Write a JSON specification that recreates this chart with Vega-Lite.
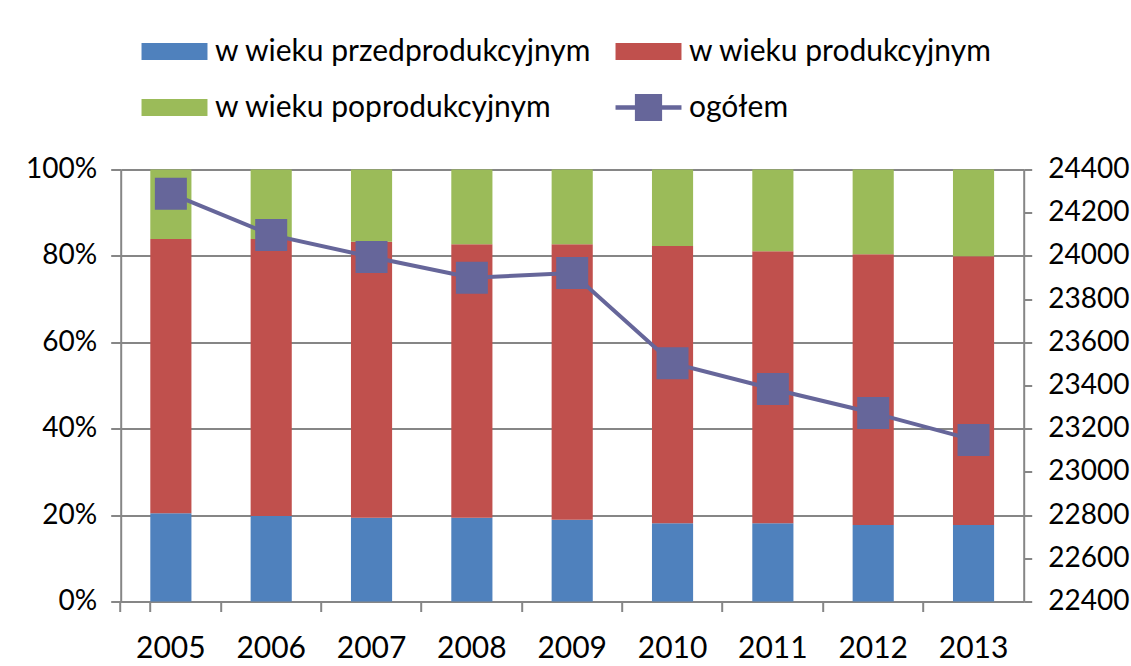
{
  "$schema": "https://vega.github.io/schema/vega-lite/v6.json",
  "width": 903,
  "height": 432,
  "autosize": {"type": "none"},
  "padding": {"left": 120.7, "top": 169.5, "right": 107.3, "bottom": 64.5},
  "background": "white",
  "config": {
    "view": {"stroke": null},
    "font": "Lato",
    "axis": {"labelFont": "Lato", "labelColor": "#000000", "domainColor": "#868686", "tickColor": "#868686", "gridColor": "#868686", "domainWidth": 2, "tickWidth": 2, "gridWidth": 1.8, "title": null}
  },
  "datasets": {
    "udzialy": [
      {"rok": "2005", "grupa": "w wieku przedprodukcyjnym", "k": 1, "udzial": 20.4},
      {"rok": "2005", "grupa": "w wieku produkcyjnym", "k": 2, "udzial": 63.5},
      {"rok": "2005", "grupa": "w wieku poprodukcyjnym", "k": 3, "udzial": 16.1},
      {"rok": "2006", "grupa": "w wieku przedprodukcyjnym", "k": 1, "udzial": 19.8},
      {"rok": "2006", "grupa": "w wieku produkcyjnym", "k": 2, "udzial": 64.1},
      {"rok": "2006", "grupa": "w wieku poprodukcyjnym", "k": 3, "udzial": 16.1},
      {"rok": "2007", "grupa": "w wieku przedprodukcyjnym", "k": 1, "udzial": 19.4},
      {"rok": "2007", "grupa": "w wieku produkcyjnym", "k": 2, "udzial": 63.9},
      {"rok": "2007", "grupa": "w wieku poprodukcyjnym", "k": 3, "udzial": 16.7},
      {"rok": "2008", "grupa": "w wieku przedprodukcyjnym", "k": 1, "udzial": 19.4},
      {"rok": "2008", "grupa": "w wieku produkcyjnym", "k": 2, "udzial": 63.3},
      {"rok": "2008", "grupa": "w wieku poprodukcyjnym", "k": 3, "udzial": 17.3},
      {"rok": "2009", "grupa": "w wieku przedprodukcyjnym", "k": 1, "udzial": 18.9},
      {"rok": "2009", "grupa": "w wieku produkcyjnym", "k": 2, "udzial": 63.8},
      {"rok": "2009", "grupa": "w wieku poprodukcyjnym", "k": 3, "udzial": 17.3},
      {"rok": "2010", "grupa": "w wieku przedprodukcyjnym", "k": 1, "udzial": 18.1},
      {"rok": "2010", "grupa": "w wieku produkcyjnym", "k": 2, "udzial": 64.2},
      {"rok": "2010", "grupa": "w wieku poprodukcyjnym", "k": 3, "udzial": 17.7},
      {"rok": "2011", "grupa": "w wieku przedprodukcyjnym", "k": 1, "udzial": 18.1},
      {"rok": "2011", "grupa": "w wieku produkcyjnym", "k": 2, "udzial": 63.0},
      {"rok": "2011", "grupa": "w wieku poprodukcyjnym", "k": 3, "udzial": 18.9},
      {"rok": "2012", "grupa": "w wieku przedprodukcyjnym", "k": 1, "udzial": 17.7},
      {"rok": "2012", "grupa": "w wieku produkcyjnym", "k": 2, "udzial": 62.7},
      {"rok": "2012", "grupa": "w wieku poprodukcyjnym", "k": 3, "udzial": 19.6},
      {"rok": "2013", "grupa": "w wieku przedprodukcyjnym", "k": 1, "udzial": 17.7},
      {"rok": "2013", "grupa": "w wieku produkcyjnym", "k": 2, "udzial": 62.2},
      {"rok": "2013", "grupa": "w wieku poprodukcyjnym", "k": 3, "udzial": 20.1}
    ],
    "ogolem": [
      {"rok": "2005", "ludnosc": 24288},
      {"rok": "2006", "ludnosc": 24097},
      {"rok": "2007", "ludnosc": 23995},
      {"rok": "2008", "ludnosc": 23899},
      {"rok": "2009", "ludnosc": 23921},
      {"rok": "2010", "ludnosc": 23503},
      {"rok": "2011", "ludnosc": 23384},
      {"rok": "2012", "ludnosc": 23273},
      {"rok": "2013", "ludnosc": 23148}
    ]
  },
  "encoding": {
    "x": {
      "field": "rok", "type": "nominal", "sort": null,
      "scale": {"paddingInner": 0.59, "paddingOuter": 0.295},
      "axis": {"labelAngle": 0, "bandPosition": -0.72, "tickExtra": true, "tickSize": 10, "labelPadding": 22, "labelFontSize": 30, "grid": false}
    }
  },
  "layer": [
    {
      "data": {"name": "udzialy"},
      "mark": {"type": "bar"},
      "encoding": {
        "y": {
          "field": "udzial", "type": "quantitative", "stack": "normalize",
          "scale": {"domain": [0, 1]},
          "axis": {"orient": "left", "values": [0, 0.2, 0.4, 0.6, 0.8, 1], "format": ".0%", "grid": true, "tickSize": 10, "labelPadding": 14, "labelFontSize": 28}
        },
        "color": {
          "field": "grupa", "type": "nominal",
          "scale": {
            "domain": ["w wieku przedprodukcyjnym", "w wieku produkcyjnym", "w wieku poprodukcyjnym", "ogółem"],
            "range": ["#4F81BD", "#C0504D", "#9BBB59", "#66669A"]
          },
          "legend": {
            "orient": "none", "legendX": 38.8, "legendY": -133,
            "columns": 2, "direction": "horizontal", "title": null,
            "labelFontSize": 30, "labelFont": "Lato", "labelColor": "#000000",
            "symbolSize": 289, "symbolType": "M-3.88,-1H3.88V1H-3.88Z",
            "symbolStrokeWidth": 0, "symbolOpacity": 1,
            "labelOffset": 25.5, "rowPadding": 26, "columnPadding": 23,
            "labelLimit": 600,
            "encode": {
              "symbols": {
                "update": {
                  "shape": {"signal": "datum.value === 'ogółem' ? 'M-3.88,-0.27H3.88V0.27H-3.88Z M-1.6,-1.6H1.6V1.6H-1.6Z' : 'M-3.88,-1H3.88V1H-3.88Z'"}
                }
              }
            }
          }
        },
        "order": {"field": "k", "type": "quantitative"}
      }
    },
    {
      "data": {"name": "ogolem"},
      "mark": {"type": "line", "color": "#66669A", "strokeWidth": 4, "point": {"shape": "square", "size": 1024, "color": "#66669A", "opacity": 1, "filled": true}},
      "encoding": {
        "y": {
          "field": "ludnosc", "type": "quantitative",
          "scale": {"domain": [22400, 24400], "zero": false},
          "axis": {"orient": "right", "values": [22400, 22600, 22800, 23000, 23200, 23400, 23600, 23800, 24000, 24200, 24400], "format": "d", "grid": false, "tickSize": 8, "labelPadding": 16, "labelFontSize": 28}
        }
      }
    }
  ],
  "resolve": {"scale": {"y": "independent"}, "axis": {"y": "independent"}}
}
